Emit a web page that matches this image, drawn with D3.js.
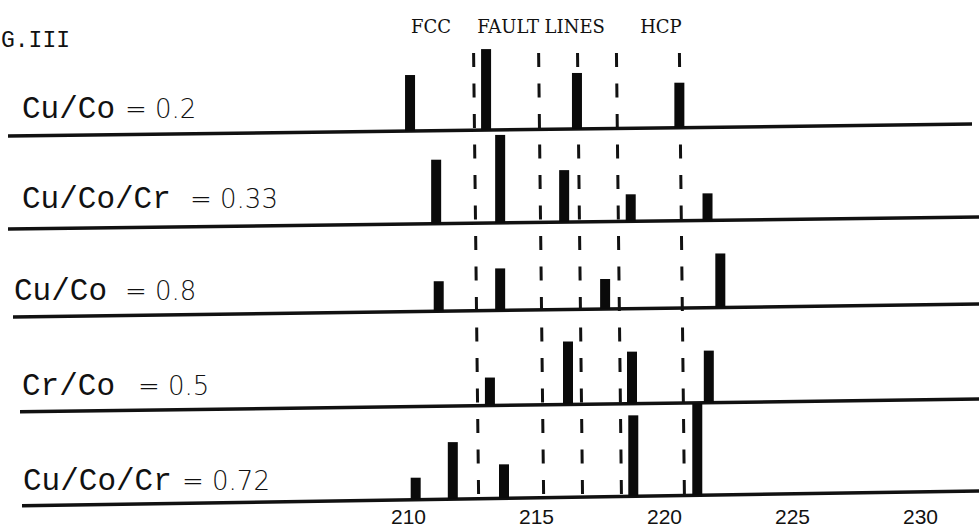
<!DOCTYPE html>
<html>
<head>
<meta charset="utf-8">
<script src="https://cdn.jsdelivr.net/npm/d3@7"></script>
<style>
  html, body { margin: 0; padding: 0; background: #fff; }
  svg { display: block; }
</style>
</head>
<body>
<svg id="chart" width="979" height="529"></svg>
<script>
// ---------------- DATA ----------------
const sampleNames = ["Cu/Co", "Cu/Co/Cr", "Cu/Co", "Cr/Co", "Cu/Co/Cr"];
const sampleRatios = ["0.2", "0.33", "0.8", "0.5", "0.72"];

// peak positions (2θ) and relative intensities, one pair per sample
const peaksPos1 = [210.08, 213.05, 216.6, 220.6];
const peaksInt1 = [56, 81, 56, 45];
const peaksPos2 = [211.1, 213.6, 216.1, 218.7, 221.7];
const peaksInt2 = [64, 88, 52, 27, 27];
const peaksPos3 = [211.2, 213.6, 217.7, 222.2];
const peaksInt3 = [30, 42, 30, 54];
const peaksPos4 = [213.2, 216.25, 218.75, 221.75];
const peaksInt4 = [28, 63, 52, 52];
const peaksPos5 = [210.3, 211.75, 213.75, 218.8, 221.3];
const peaksInt5 = [22, 57, 34, 81, 92];

// reference (FCC / fault / HCP) line positions
const refLines = [212.66, 215.2, 216.72, 218.24, 220.7];
const refLabels = ["FCC", "FAULT LINES", "HCP"];
const refLabelPos = [210.9, 215.2, 219.88];

const tickValues = [210, 215, 220, 225, 230];
const figTitle = "G.III";

// ---------------- LAYOUT ----------------
const W = 979, H = 529;
const rowBaseLeft  = [136, 229, 317, 412, 506];
const rowBaseRight = [124, 217, 304, 399, 491];
const rowLineStart = [8, 8, 13, 20, 22];
const rowLineEnd   = [972, 979, 979, 979, 979];
const rowLabelY    = [118, 208, 300, 395, 490];
const rowLabelX    = [22, 22, 14, 22, 23];
const rowEqX       = [125, 190, 125, 138, 182];

const allPos = [peaksPos1, peaksPos2, peaksPos3, peaksPos4, peaksPos5];
const allInt = [peaksInt1, peaksInt2, peaksInt3, peaksInt4, peaksInt5];

const svg = d3.select("#chart");
svg.append("rect").attr("width", W).attr("height", H).attr("fill", "#fff");

const x = d3.scaleLinear().domain([210, 230]).range([408, 920]);
const h = d3.scaleLinear().domain([0, 100]).range([0, 100]);

function baseAt(r, px) {
  return rowBaseLeft[r] + (rowBaseRight[r] - rowBaseLeft[r]) * (px - 8) / (W - 8);
}

// dashed reference lines
const dashTop = 53, dashBottom = 496;
svg.append("g").selectAll("line").data(refLines).join("line")
  .attr("x1", d => x(d) - 2.5).attr("y1", dashTop)
  .attr("x2", d => x(d) + 2.5).attr("y2", dashBottom)
  .attr("stroke", "#111").attr("stroke-width", 3)
  .attr("stroke-dasharray", "14,16.5");

// baselines
svg.append("g").selectAll("line").data(d3.range(5)).join("line")
  .attr("x1", r => rowLineStart[r]).attr("y1", r => baseAt(r, rowLineStart[r]))
  .attr("x2", r => rowLineEnd[r]).attr("y2", r => baseAt(r, rowLineEnd[r]))
  .attr("stroke", "#111").attr("stroke-width", 3.5);

// bars
const barW = 10;
const rows = svg.append("g").selectAll("g").data(d3.range(5)).join("g");
rows.selectAll("rect")
  .data(r => allPos[r].map((p, i) => ({ r, p, v: allInt[r][i] })))
  .join("rect")
  .attr("x", d => x(d.p) - barW / 2)
  .attr("y", d => baseAt(d.r, x(d.p)) - h(d.v))
  .attr("width", barW)
  .attr("height", d => h(d.v))
  .attr("fill", "#0a0a0a");

// row labels
const labels = svg.append("g").selectAll("g").data(d3.range(5)).join("g");
labels.append("text")
  .attr("x", r => rowLabelX[r]).attr("y", r => rowLabelY[r])
  .attr("font-family", "'Liberation Mono', 'DejaVu Sans Mono', monospace")
  .attr("font-size", 31)
  .attr("fill", "#111")
  .text(r => sampleNames[r]);
labels.append("text")
  .attr("x", r => rowEqX[r]).attr("y", r => rowLabelY[r])
  .attr("font-family", "'DejaVu Sans', sans-serif")
  .attr("font-size", 26)
  .attr("font-weight", 300)
  .attr("fill", "#111")
  .text(r => "= " + sampleRatios[r]);

// top labels
svg.append("g").selectAll("text").data(refLabels).join("text")
  .attr("x", (d, i) => x(refLabelPos[i])).attr("y", 33)
  .attr("text-anchor", "middle")
  .attr("font-family", "'DejaVu Serif', serif")
  .attr("font-size", 18)
  .attr("fill", "#111")
  .text(d => d);

// title
svg.append("text")
  .attr("x", 1).attr("y", 47)
  .attr("font-family", "'Liberation Mono', monospace")
  .attr("font-size", 23)
  .attr("fill", "#111")
  .text(figTitle);

// x axis labels
const axis = d3.axisBottom(x).tickValues(tickValues).tickSize(0).tickFormat(d3.format("d"));
const gx = svg.append("g").attr("transform", "translate(0,506)").call(axis);
gx.select(".domain").remove();
gx.selectAll("text")
  .attr("y", 0).attr("dy", "0.85em")
  .attr("font-family", "'Liberation Sans', Arial, sans-serif")
  .attr("font-size", 21)
  .attr("fill", "#111");
</script>
</body>
</html>
